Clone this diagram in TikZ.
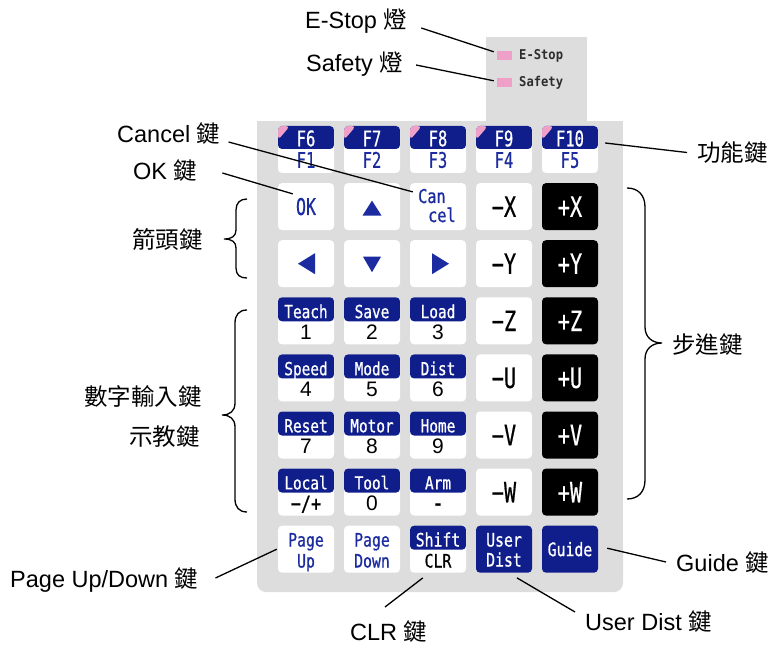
\documentclass[tikz,border=0pt]{standalone}
\usepackage{fontspec}
\setmainfont{Liberation Sans}
\newfontfamily\cjk{Noto Sans CJK TC}
\newfontfamily\kf[FakeStretch=0.8,FakeBold=0.8]{DejaVu Sans Mono}
\newfontfamily\kn[FakeStretch=0.72,FakeBold=0.6]{DejaVu Sans Mono}
\newfontfamily\indf[FakeStretch=0.9]{DejaVu Sans Mono}
\usetikzlibrary{calc}
\definecolor{panelgray}{RGB}{221,221,221}
\definecolor{keyblue}{RGB}{16,30,140}
\definecolor{txtblue}{RGB}{28,44,160}
\definecolor{pinkc}{RGB}{238,160,200}
\definecolor{indtext}{RGB}{45,45,45}
\newcommand\FKey[4]{%
  \node[fkey] (#1) at (#2,149.5) {};
  \node[ftop, anchor=base] (#1t) at ([yshift=-20.5pt]#1.north) {#3};
  \node[fbot, anchor=base] (#1b) at ([yshift=-42pt]#1.north) {#4};}
\newcommand\BandKey[5]{%
  \node[bandkey] (#1) at (#2,#3) {};
  \node[btop, anchor=base] (#1t) at ([yshift=-21pt]#1.north) {#4};
  \node[bbot, anchor=base] (#1b) at ([yshift=-42.5pt]#1.north) {#5};}
\begin{document}
\begin{tikzpicture}[x=1pt,y=-1pt,
  key/.style={draw=none, fill=white, rounded corners=4pt, minimum width=56pt, minimum height=47pt, inner sep=0pt},
  wkey/.style={key, font=\kn\fontsize{28}{28}\selectfont, text=black},
  bkkey/.style={key, fill=black, font=\kn\fontsize{28}{28}\selectfont, text=white},
  bandkey/.style={key, path picture={\fill[keyblue] (path picture bounding box.north west) rectangle ([yshift=-24pt]path picture bounding box.north east);}},
  fkey/.style={key, path picture={\fill[keyblue] (path picture bounding box.north west) rectangle ([yshift=-23pt]path picture bounding box.north east);
      \fill[pinkc] (path picture bounding box.north west) -- ([xshift=12pt]path picture bounding box.north west) -- ([yshift=-14pt]path picture bounding box.north west) -- cycle;}},
  ftop/.style={font=\kn\fontsize{21.5}{21.5}\selectfont, text=white, inner sep=0pt},
  fbot/.style={font=\kn\fontsize{21.5}{21.5}\selectfont, text=txtblue, inner sep=0pt},
  btop/.style={font=\kf\fontsize{18}{18}\selectfont, text=white, inner sep=0pt},
  bbot/.style={font=\fontsize{21}{21}\selectfont, text=black, inner sep=0pt},
  kt/.style={font=\kf\fontsize{18.5}{18.5}\selectfont, inner sep=0pt},
  ann/.style={font=\fontsize{23.5}{27}\selectfont, inner sep=0pt, text=black},
  indsq/.style={fill=pinkc, minimum width=15pt, minimum height=9pt, inner sep=0pt},
  indtxt/.style={font=\indf\bfseries\fontsize{13.5}{13.5}\selectfont, text=indtext, inner sep=0pt},
  lead/.style={draw=black, line width=1.3pt},
  brc/.style={draw=black, line width=1.3pt}]
\useasboundingbox (0,0) rectangle (768,647);
% panel
\fill[panelgray] (486,37) rectangle (587,122);
\fill[panelgray] (257,121) rectangle (623,570);
\fill[panelgray, rounded corners=9pt] (257,540) rectangle (623,592);
% indicators
\node[indsq] (iE) at (504.5,55.5) {};
\node[indtxt, anchor=base west] (iEt) at (519,60) {E-Stop};
\node[indsq] (iS) at (504.5,82.5) {};
\node[indtxt, anchor=base west] (iSt) at (519,87) {Safety};
% row 0: function keys
\FKey{k00}{306}{F6}{F1}
\FKey{k01}{372}{F7}{F2}
\FKey{k02}{438}{F8}{F3}
\FKey{k03}{504}{F9}{F4}
\FKey{k04}{570}{F10}{F5}
% row 1
\node[key, font=\kn\fontsize{23}{23}\selectfont, text=txtblue] (k10) at (306,206.6) {OK};
\node[key] (k11) at (372,206.6) {};
\node[key] (k12) at (438,206.6) {};
\node[kt, text=txtblue, anchor=base west, font=\kf\fontsize{19}{19}\selectfont] (k12a) at (418,203) {Can};
\node[kt, text=txtblue, anchor=base west, font=\kf\fontsize{19}{19}\selectfont] (k12b) at (428,222) {cel};
\node[wkey] (k13) at (504,206.6) {−X};
\node[bkkey] (k14) at (570,206.6) {+X};
% row 2
\node[key] (k20) at (306,263.7) {};
\node[key] (k21) at (372,263.7) {};
\node[key] (k22) at (438,263.7) {};
\node[wkey] (k23) at (504,263.7) {−Y};
\node[bkkey] (k24) at (570,263.7) {+Y};
% arrow triangles
\fill[txtblue] ($(k11)+(-9.5,9)$) -- ($(k11)+(9.5,9)$) -- ($(k11)+(0,-6)$) -- cycle;
\fill[txtblue] ($(k21)+(-9,-7)$) -- ($(k21)+(9,-7)$) -- ($(k21)+(0,8.5)$) -- cycle;
\fill[txtblue] ($(k20)+(9,-10.5)$) -- ($(k20)+(9,10.5)$) -- ($(k20)+(-8,0)$) -- cycle;
\fill[txtblue] ($(k22)+(-6,-10.5)$) -- ($(k22)+(-6,10.5)$) -- ($(k22)+(11,0)$) -- cycle;
% rows 3-6
\BandKey{k30}{306}{320.8}{Teach}{1}
\BandKey{k31}{372}{320.8}{Save}{2}
\BandKey{k32}{438}{320.8}{Load}{3}
\node[wkey] (k33) at (504,320.8) {−Z};
\node[bkkey] (k34) at (570,320.8) {+Z};
\BandKey{k40}{306}{377.9}{Speed}{4}
\BandKey{k41}{372}{377.9}{Mode}{5}
\BandKey{k42}{438}{377.9}{Dist}{6}
\node[wkey] (k43) at (504,377.9) {−U};
\node[bkkey] (k44) at (570,377.9) {+U};
\BandKey{k50}{306}{435}{Reset}{7}
\BandKey{k51}{372}{435}{Motor}{8}
\BandKey{k52}{438}{435}{Home}{9}
\node[wkey] (k53) at (504,435) {−V};
\node[bkkey] (k54) at (570,435) {+V};
\BandKey{k60}{306}{492.1}{Local}{{\kf −/+}}
\BandKey{k61}{372}{492.1}{Tool}{0}
\BandKey{k62}{438}{492.1}{Arm}{\textbf{-}}
\node[wkey] (k63) at (504,492.1) {−W};
\node[bkkey] (k64) at (570,492.1) {+W};
% row 7
\node[key] (k70) at (306,549.2) {};
\node[kt, text=txtblue, anchor=base] (k70a) at ([yshift=-21pt]k70.north) {Page};
\node[kt, text=txtblue, anchor=base] (k70b) at ([yshift=-42pt]k70.north) {Up};
\node[key] (k71) at (372,549.2) {};
\node[kt, text=txtblue, anchor=base] (k71a) at ([yshift=-21pt]k71.north) {Page};
\node[kt, text=txtblue, anchor=base] (k71b) at ([yshift=-42pt]k71.north) {Down};
\node[bandkey] (k72) at (438,549.2) {};
\node[kt, text=white, anchor=base] (k72a) at ([yshift=-21pt]k72.north) {Shift};
\node[kt, text=black, anchor=base] (k72b) at ([yshift=-42pt]k72.north) {CLR};
\node[key, fill=keyblue] (k73) at (504,549.2) {};
\node[kt, text=white, anchor=base] (k73a) at ([yshift=-21pt]k73.north) {User};
\node[kt, text=white, anchor=base] (k73b) at ([yshift=-41pt]k73.north) {Dist};
\node[key, fill=keyblue, font=\kf\fontsize{18.5}{18.5}\selectfont, text=white] (k74) at (570,549.2) {Guide};
% annotation labels
\node[ann, anchor=base west] (lEStop) at (305,29) {E-Stop {\cjk 燈}};
\node[ann, anchor=base west] (lSafety) at (306,72) {Safety {\cjk 燈}};
\node[ann, anchor=base west] (lCancel) at (117,143) {Cancel {\cjk 鍵}};
\node[ann, anchor=base west] (lOK) at (133,180) {OK {\cjk 鍵}};
\node[ann, anchor=base east] (lArrow) at (203,248.5) {\cjk 箭頭鍵};
\node[ann, anchor=base east] (lNum) at (202,405.5) {\cjk 數字輸入鍵};
\node[ann, anchor=base east] (lTeach) at (200,445.5) {\cjk 示教鍵};
\node[ann, anchor=base west] (lFunc) at (697,161.5) {\cjk 功能鍵};
\node[ann, anchor=base west] (lStep) at (672,353.5) {\cjk 步進鍵};
\node[ann, anchor=base west] (lPage) at (10,587) {Page Up/Down {\cjk 鍵}};
\node[ann, anchor=base west] (lCLR) at (350,640) {CLR {\cjk 鍵}};
\node[ann, anchor=base west] (lUser) at (585,630) {User Dist {\cjk 鍵}};
\node[ann, anchor=base west] (lGuide) at (676,571) {Guide {\cjk 鍵}};
% leader lines
\draw[lead] ($(lEStop.base east)+(14,-1)$) -- ($(iE.north west)+(-3,1)$);
\draw[lead] ($(lSafety.base east)+(13,-7)$) -- ($(iS.north west)+(-3,3)$);
\draw[lead] ($(lCancel.base east)+(8,-1)$) -- ($(k12.north west)+(3,9)$);
\draw[lead] ($(lOK.base east)+(25,-7)$) -- ($(k10.north west)+(15,11)$);
\draw[lead] ($(k04.east)+(7,-6.5)$) -- ($(lFunc.base west)+(-10,-9)$);
\draw[lead] ($(lPage.base east)+(17,-9)$) -- ($(k70.west)+(-1,0)$);
\draw[lead] ($(lCLR.base west)+(35,-33)$) -- ($(k72.south west)+(13,5)$);
\draw[lead] ($(lUser.base west)+(-10,-18)$) -- ($(k73.south)+(13,5)$);
\draw[lead] ($(lGuide.base west)+(-10,-9)$) -- ($(k74.east)+(9,-1)$);
% braces
\draw[brc] (247,199) .. controls (240,199) and (236,203) .. (236,210) -- (236,230) .. controls (236,236) and (232,239) .. (224,239) .. controls (232,239) and (236,242) .. (236,248) -- (236,268) .. controls (236,275) and (240,278) .. (247,278);
\draw[brc] (247,310) .. controls (239,310) and (235,315) .. (235,323) -- (235,403) .. controls (235,411) and (230,415) .. (222,415) .. controls (230,415) and (235,419) .. (235,427) -- (235,499) .. controls (235,507) and (239,512) .. (247,512);
\draw[brc] (627,188) .. controls (638,188) and (645,195) .. (645,207) -- (645,327) .. controls (645,337) and (652,343) .. (662,343) .. controls (652,343) and (645,349) .. (645,359) -- (645,480) .. controls (645,492) and (638,499) .. (627,499);
\end{tikzpicture}
\end{document}
